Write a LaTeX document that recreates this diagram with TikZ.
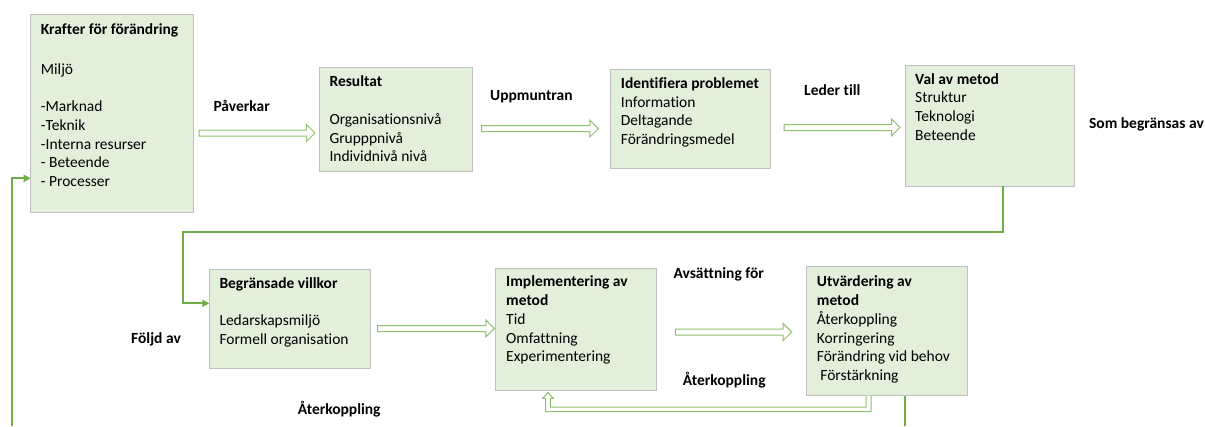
\documentclass[tikz,border=0pt]{standalone}
\usepackage{fontspec}
\setmainfont{Carlito}[Ligatures=NoCommon]
\usetikzlibrary{arrows.meta,calc}

\definecolor{boxfill}{HTML}{E2EFDA}
\definecolor{boxline}{HTML}{BFBFBF}
\definecolor{flowgreen}{HTML}{70AD47}
\definecolor{hollowgreen}{HTML}{8FC06B}

\newcommand\firstline{\rule{0pt}{12pt}}

\tikzset{
  stage/.style={draw=boxline, fill=boxfill, line width=1pt, anchor=north west,
    inner sep=0pt, outer sep=0pt},
  stagetext/.style={anchor=north west, align=left, inner sep=0pt,
    font=\fontsize{15.5}{18.7}\selectfont},
  caption/.style={anchor=base west, inner sep=0pt,
    font=\fontsize{15.5}{18.7}\selectfont\bfseries},
  flow/.style={draw=flowgreen, line width=2pt, -{Triangle[length=7pt,width=7pt]}},
  plainflow/.style={draw=flowgreen, line width=1.5pt},
  hollow/.style={draw=hollowgreen, fill=white, line width=1pt, line join=miter},
}

% hollow block arrow from #1 to #2 (both at the same height)
\newcommand\hollowarrow[2]{%
  \draw[hollow] let \p1=#1, \p2=#2 in
    (\x1,\y1+3pt) -- (\x2-8.5pt,\y1+3pt) -- (\x2-8.5pt,\y1+8.5pt) -- (\x2,\y1)
    -- (\x2-8.5pt,\y1-8.5pt) -- (\x2-8.5pt,\y1-3pt) -- (\x1,\y1-3pt) -- cycle;}

\begin{document}
\begin{tikzpicture}[x=1pt,y=-1pt]
\useasboundingbox (0,0) rectangle (1205,426);

% ---- stages ----
\node[stage, minimum width=162.5pt, minimum height=198.5pt] (forces) at (30.7,14.3) {};
\node[stage, minimum width=153.5pt, minimum height=104.5pt] (result) at (319,67.3) {};
\node[stage, minimum width=160.7pt, minimum height=99pt]    (problem) at (610,69.3) {};
\node[stage, minimum width=169.3pt, minimum height=121pt]   (method) at (905,65) {};
\node[stage, minimum width=160.7pt, minimum height=99pt]    (limits) at (209.3,269.3) {};
\node[stage, minimum width=161pt,   minimum height=121.7pt] (impl) at (495.7,268.3) {};
\node[stage, minimum width=161.3pt, minimum height=129pt]   (eval) at (806.3,266.7) {};

% ---- stage texts (first baseline 12pt below the node top) ----
\node[stagetext] (forces-t) at ($(forces.north west)+(10,8)$)
  {\firstline\textbf{Krafter för förändring}\\[2.5pt]\\Miljö\\\\-Marknad\\-Teknik\\-Interna resurser\\- Beteende\\- Processer};
\node[stagetext] (result-t) at ($(result.north west)+(10.3,7.4)$)
  {\firstline\textbf{Resultat}\\\\Organisationsnivå\\Grupppnivå\\Individnivå nivå};
\node[stagetext] (problem-t) at ($(problem.north west)+(10.7,7)$)
  {\firstline\textbf{Identifiera problemet}\\Information\\Deltagande\\Förändringsmedel};
\node[stagetext] (method-t) at ($(method.north west)+(10,7)$)
  {\firstline\textbf{Val av metod}\\Struktur\\Teknologi\\Beteende};
\node[stagetext] (limits-t) at ($(limits.north west)+(10,7)$)
  {\firstline\textbf{Begränsade villkor}\\\\Ledarskapsmiljö\\Formell organisation};
\node[stagetext] (impl-t) at ($(impl.north west)+(10.3,6.4)$)
  {\firstline\textbf{Implementering av}\\\textbf{metod}\\Tid\\Omfattning\\Experimentering};
\node[stagetext] (eval-t) at ($(eval.north west)+(10.4,8)$)
  {\firstline\textbf{Utvärdering av}\\\textbf{metod}\\Återkoppling\\Korringering\\Förändring vid behov\\\ Förstärkning};

% ---- captions ----
\node[caption] (c-paverkar) at (213.3,111.7) {Påverkar};
\node[caption] (c-uppmuntran) at (490,100) {Uppmuntran};
\node[caption] (c-leder) at (804,95) {Leder till};
\node[caption, anchor=base east] (c-begransas) at (1204,128) {Som begränsas av};
\node[caption] (c-foljd) at (131,343.3) {Följd av};
\node[caption] (c-ater1) at (297.7,414) {Återkoppling};
\node[caption] (c-avsattning) at (673.3,278.3) {Avsättning för};
\node[caption] (c-ater2) at (682.7,385) {Återkoppling};

% ---- hollow block arrows ----
\coordinate (a1s) at (199,133);   \coordinate (a1e) at (315,133);
\coordinate (a2s) at (481.7,128.7); \coordinate (a2e) at (598.3,128.7);
\coordinate (a3s) at (784,127.5);   \coordinate (a3e) at (900,127.5);
\coordinate (a4s) at (377.7,328.5); \coordinate (a4e) at (494.3,328.5);
\coordinate (a5s) at (675.3,332); \coordinate (a5e) at (791.7,332);
\hollowarrow{(a1s)}{(a1e)}
\hollowarrow{(a2s)}{(a2e)}
\hollowarrow{(a3s)}{(a3e)}
\hollowarrow{(a4s)}{(a4e)}
\hollowarrow{(a5s)}{(a5e)}

% ---- feedback arrow from evaluation back to implementation ----
\draw[hollow]
  (eval.south -| 866,0) -- (866,407) -- (550.3,407) -- (550.3,398.3)
  -- (553.3,398.3) -- (548,392.5) -- (542.7,398.3) -- (545.7,398.3)
  -- (545.7,411.7) -- (871,411.7) -- (eval.south -| 871,0);

% ---- solid green connectors ----
\draw[flow] (method.south -| 1003.3,0) -- (1003.3,232.3) -- (182.7,232.3)
  |- (limits.west |- 0,303.3);
\coordinate (loop-in) at (11.5,426);
\draw[flow] (loop-in) |- (forces.west |- 0,178.3);
\coordinate (eval-out) at (905,426);
\draw[plainflow] (eval.south -| 905,0) -- (eval-out);

\end{tikzpicture}
\end{document}
